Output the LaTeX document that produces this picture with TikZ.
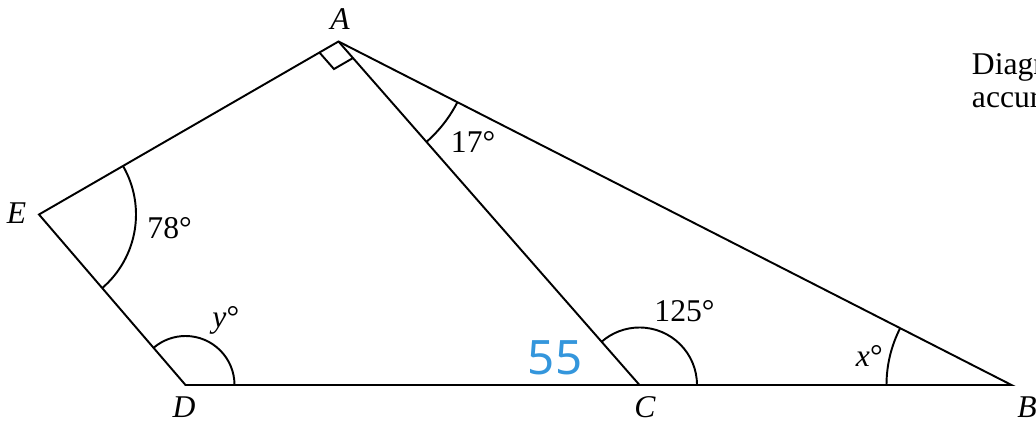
\documentclass[tikz,border=0pt]{standalone}
\usepackage{fontspec}
\setmainfont{Liberation Serif}
\newfontfamily\handfont{Noto Sans}
\usetikzlibrary{angles,calc}
\definecolor{penblue}{RGB}{52,150,220}
\newcommand\labfont{\fontsize{18}{19.5}\selectfont}
\tikzset{
  vlabel/.style={font=\labfont\itshape, anchor=base, inner sep=0pt},
  alabel/.style={font=\labfont, anchor=base west, inner sep=0pt},
  arcmark/.style={draw, line width=1.1pt},
}
\begin{document}
\begin{tikzpicture}[line width=1.1pt]
  \useasboundingbox (0,0) rectangle (20.72,8.52);

  % vertices
  \coordinate (A) at (6.77,7.69);
  \coordinate (E) at (0.78,4.23);
  \coordinate (D) at (3.71,0.82);
  \coordinate (C) at (12.79,0.82);
  \coordinate (B) at (20.23,0.82);

  \draw (A) -- (E) -- (D) -- (B) -- cycle;
  \draw (A) -- (C);

  % angle marks
  \pic[arcmark, angle radius=1.94cm] {angle=D--E--A};
  \pic[arcmark, angle radius=0.98cm] {angle=C--D--E};
  \pic[arcmark, angle radius=1.15cm] {angle=B--C--A};
  \pic[arcmark, angle radius=2.5cm] {angle=A--B--C};
  \pic[arcmark, angle radius=2.67cm] {angle=C--A--B};

  \coordinate (ra1) at ($(A)!0.44cm!(E)$);
  \coordinate (ra2) at ($(A)!0.44cm!(C)$);
  \draw (ra1) -- ($(ra1)+(ra2)-(A)$) -- (ra2);

  % vertex labels
  \node[vlabel] (labA) at (6.8,7.92) {A};
  \node[vlabel] (labE) at (0.33,4.05) {E};
  \node[vlabel] (labD) at (3.68,0.16) {D};
  \node[vlabel] (labC) at (12.9,0.16) {C};
  \node[vlabel] (labB) at (20.54,0.16) {B};

  % angle labels
  \node[alabel] (ang78) at (2.93,3.75) {78°};
  \node[alabel] (ang17) at (9.0,5.46) {17°};
  \node[alabel] (ang125) at (13.07,2.09) {125°};
  \node[alabel] (angy) at (4.23,1.96) {\textit{y}°};
  \node[alabel] (angx) at (17.1,1.19) {\textit{x}°};

  \node[text=penblue, font=\handfont\fontsize{27}{27}\selectfont, inner sep=0pt] (note) at (11.1,1.36) {55};

  \node[alabel] (diag1) at (19.42,7.02) {Diagram \textbf{NOT}};
  \node[alabel] (diag2) at (19.42,6.36) {accurately drawn};
\end{tikzpicture}
\end{document}
